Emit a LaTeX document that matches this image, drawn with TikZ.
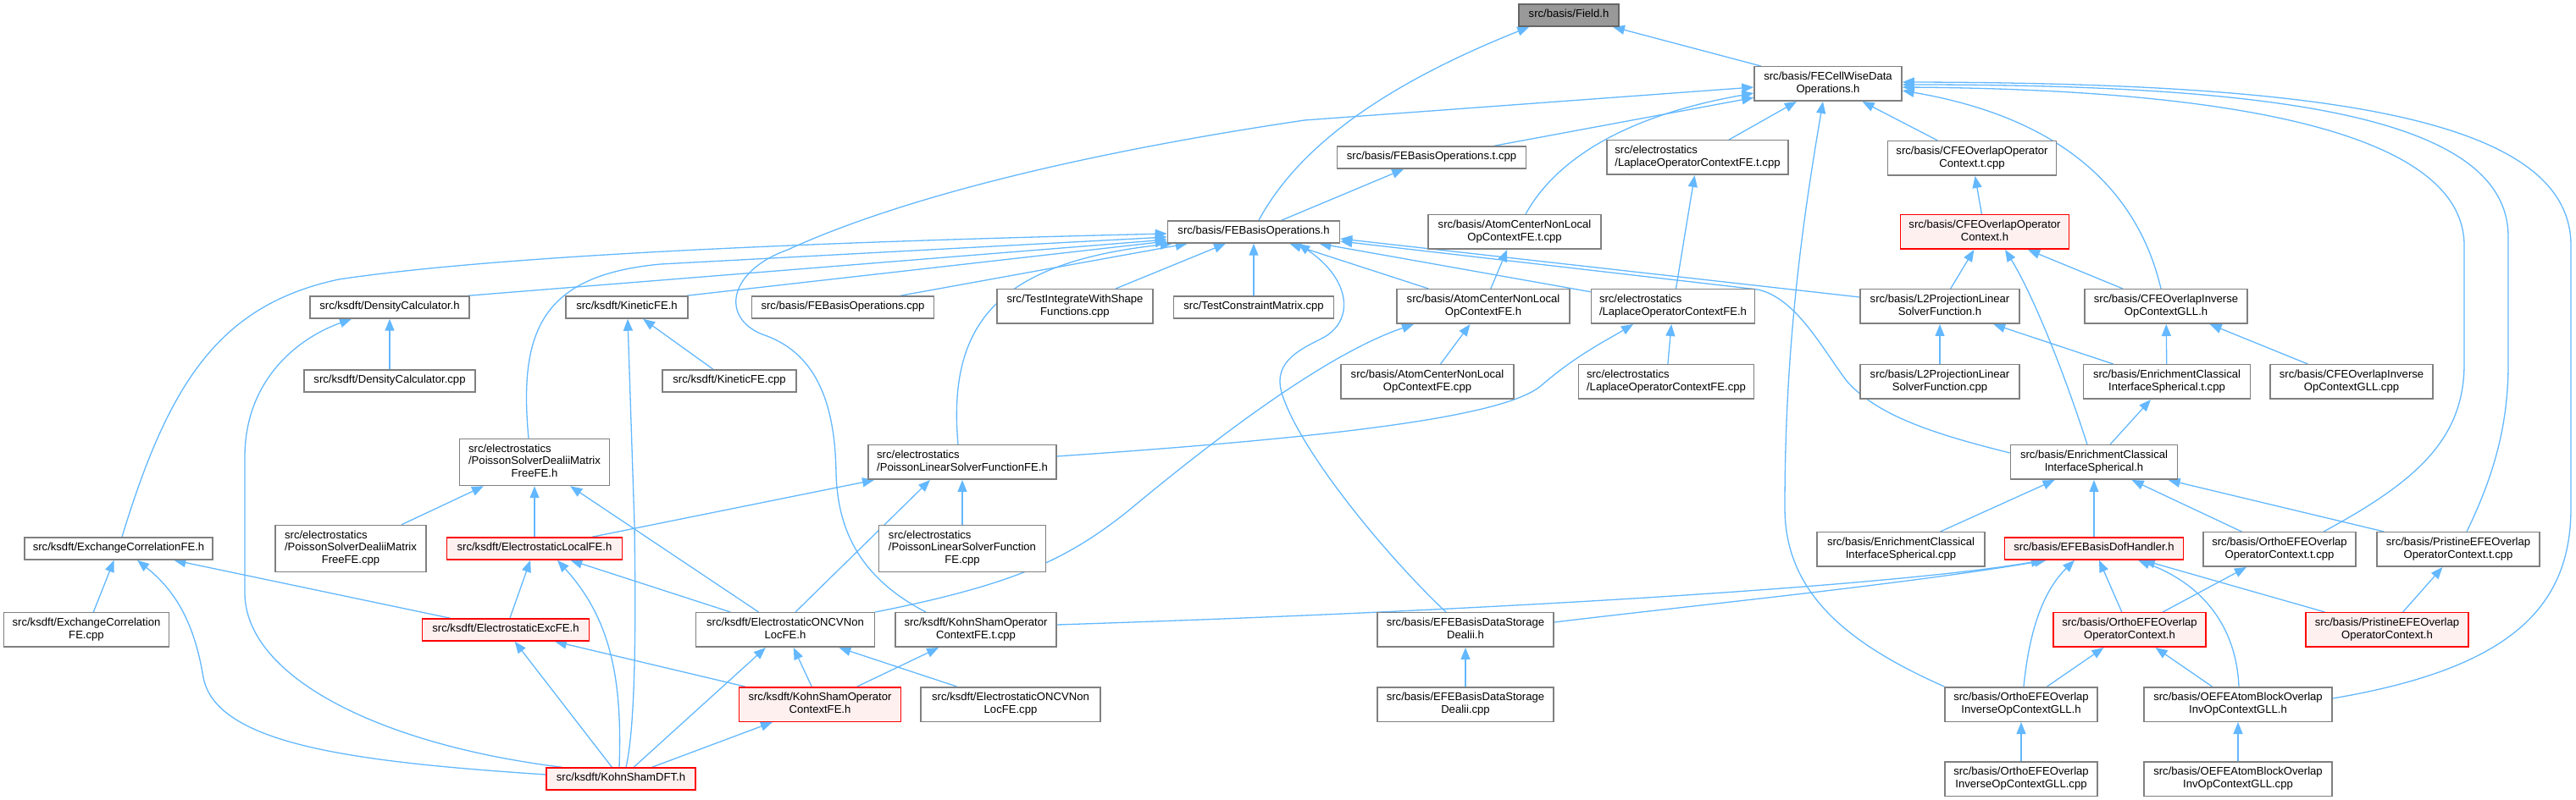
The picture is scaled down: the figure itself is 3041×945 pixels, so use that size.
\documentclass[tikz,border=0pt]{standalone}
\usepackage{fontspec}
\setmainfont{Liberation Sans}
\usetikzlibrary{arrows.meta,calc}
\definecolor{edgec}{HTML}{63B8FF}
\definecolor{bord}{HTML}{808080}
\definecolor{redfill}{HTML}{FFF0F0}
\definecolor{rootfill}{HTML}{999999}
\definecolor{rootbord}{HTML}{666666}
\newcommand{\oneln}[1]{\begin{tabular}{@{}l@{}}#1\end{tabular}}
\newcommand{\twoln}[2]{\begin{tabular}{@{}l@{}}#1\\\multicolumn{1}{@{}c@{}}{#2}\end{tabular}}
\newcommand{\threeln}[3]{\begin{tabular}{@{}l@{}}#1\\#2\\\multicolumn{1}{@{}c@{}}{#3}\end{tabular}}
\pgfdeclarelayer{bg}
\pgfsetlayers{bg,main}
\tikzset{
  box/.style={rectangle, draw=bord, fill=white, line width=0.75pt, inner sep=0pt,
    font=\fontsize{6.55pt}{7.35pt}\selectfont},
  r1/.style={minimum height=13pt},
  r2/.style={minimum height=20.25pt},
  r3/.style={minimum height=27.5pt},
  redbox/.style={draw=red, fill=redfill},
  rootbox/.style={draw=rootbord, fill=rootfill},
  edge/.style={draw=edgec, line width=0.65pt, -{Triangle[length=7pt,width=5.5pt]}}
}
\begin{document}
\begin{tikzpicture}[x=0.5pt,y=-0.5pt]
\useasboundingbox (0,0) rectangle (3041,945);
% nodes
\node[box,r1,rootbox,minimum width=59pt] (field) at (1852,18) {\oneln{src/basis/Field.h}};
\node[box,r2,minimum width=87pt] (fecw) at (2158,99) {\twoln{src/basis/FECellWiseData}{Operations.h}};
\node[box,r1,minimum width=111.5pt] (febt) at (1690,186) {\oneln{src/basis/FEBasisOperations.t.cpp}};
\node[box,r2,minimum width=107pt] (lapt) at (2004,186) {\twoln{src/electrostatics}{/LaplaceOperatorContextFE.t.cpp}};
\node[box,r2,minimum width=99.5pt] (cfet) at (2328,187) {\twoln{src/basis/CFEOverlapOperator}{Context.t.cpp}};
\node[box,r2,redbox,minimum width=99.5pt] (cfeh) at (2343,274) {\twoln{src/basis/CFEOverlapOperator}{Context.h}};
\node[box,r1,minimum width=101.5pt] (febh) at (1480,274) {\oneln{src/basis/FEBasisOperations.h}};
\node[box,r2,minimum width=102pt] (acnt) at (1788,274) {\twoln{src/basis/AtomCenterNonLocal}{OpContextFE.t.cpp}};
\node[box,r1,minimum width=94pt] (dch) at (460,363) {\oneln{src/ksdft/DensityCalculator.h}};
\node[box,r1,minimum width=72pt] (kinh) at (740,363) {\oneln{src/ksdft/KineticFE.h}};
\node[box,r1,minimum width=107.5pt] (febcpp) at (995,363) {\oneln{src/basis/FEBasisOperations.cpp}};
\node[box,r2,minimum width=92pt] (tiws) at (1269,362) {\twoln{src/TestIntegrateWithShape}{Functions.cpp}};
\node[box,r1,minimum width=94.5pt] (tcm) at (1480,363) {\oneln{src/TestConstraintMatrix.cpp}};
\node[box,r2,minimum width=102pt] (acnh) at (1751,362) {\twoln{src/basis/AtomCenterNonLocal}{OpContextFE.h}};
\node[box,r2,minimum width=96.5pt] (laph) at (1975,362) {\twoln{src/electrostatics}{/LaplaceOperatorContextFE.h}};
\node[box,r2,minimum width=94pt] (l2h) at (2290,362) {\twoln{src/basis/L2ProjectionLinear}{SolverFunction.h}};
\node[box,r2,minimum width=96pt] (cfeinvh) at (2557,362) {\twoln{src/basis/CFEOverlapInverse}{OpContextGLL.h}};
\node[box,r1,minimum width=101pt] (dccpp) at (460,450) {\oneln{src/ksdft/DensityCalculator.cpp}};
\node[box,r1,minimum width=79pt] (kincpp) at (861,450) {\oneln{src/ksdft/KineticFE.cpp}};
\node[box,r2,minimum width=102pt] (acncpp) at (1685,451) {\twoln{src/basis/AtomCenterNonLocal}{OpContextFE.cpp}};
\node[box,r2,minimum width=103.5pt] (lapcpp) at (1967,451) {\twoln{src/electrostatics}{/LaplaceOperatorContextFE.cpp}};
\node[box,r2,minimum width=94pt] (l2cpp) at (2290,451) {\twoln{src/basis/L2ProjectionLinear}{SolverFunction.cpp}};
\node[box,r2,minimum width=98.5pt] (ecist) at (2558,451) {\twoln{src/basis/EnrichmentClassical}{InterfaceSpherical.t.cpp}};
\node[box,r2,minimum width=96pt] (cfeinvcpp) at (2776,451) {\twoln{src/basis/CFEOverlapInverse}{OpContextGLL.cpp}};
\node[box,r3,minimum width=88.5pt] (psdh) at (631,546) {\threeln{src/electrostatics}{/PoissonSolverDealiiMatrix}{FreeFE.h}};
\node[box,r2,minimum width=111pt] (plsh) at (1136,546) {\twoln{src/electrostatics}{/PoissonLinearSolverFunctionFE.h}};
\node[box,r2,minimum width=98.5pt] (ecish) at (2472,546) {\twoln{src/basis/EnrichmentClassical}{InterfaceSpherical.h}};
\node[box,r1,minimum width=111pt] (xch) at (140,648) {\oneln{src/ksdft/ExchangeCorrelationFE.h}};
\node[box,r3,minimum width=89pt] (psdcpp) at (414,648) {\threeln{src/electrostatics}{/PoissonSolverDealiiMatrix}{FreeFE.cpp}};
\node[box,r1,redbox,minimum width=103.5pt] (elh) at (631,648) {\oneln{src/ksdft/ElectrostaticLocalFE.h}};
\node[box,r3,minimum width=98.5pt] (plscpp) at (1136,648) {\threeln{src/electrostatics}{/PoissonLinearSolverFunction}{FE.cpp}};
\node[box,r2,minimum width=99pt] (eciscpp) at (2244,649) {\twoln{src/basis/EnrichmentClassical}{InterfaceSpherical.cpp}};
\node[box,r1,redbox,minimum width=105.5pt] (dofh) at (2472,648) {\oneln{src/basis/EFEBasisDofHandler.h}};
\node[box,r2,minimum width=90pt] (orthot) at (2691,649) {\twoln{src/basis/OrthoEFEOverlap}{OperatorContext.t.cpp}};
\node[box,r2,minimum width=96pt] (pristt) at (2902,649) {\twoln{src/basis/PristineEFEOverlap}{OperatorContext.t.cpp}};
\node[box,r1,redbox,minimum width=98.5pt] (exch) at (597,744) {\oneln{src/ksdft/ElectrostaticExcFE.h}};
\node[box,r2,minimum width=97.5pt] (xccpp) at (102,744) {\twoln{src/ksdft/ExchangeCorrelation}{FE.cpp}};
\node[box,r2,minimum width=105.5pt] (oncvh) at (927,744) {\twoln{src/ksdft/ElectrostaticONCVNon}{LocFE.h}};
\node[box,r2,minimum width=95pt] (kst) at (1152,744) {\twoln{src/ksdft/KohnShamOperator}{ContextFE.t.cpp}};
\node[box,r2,minimum width=104pt] (dsh) at (1730,744) {\twoln{src/basis/EFEBasisDataStorage}{Dealii.h}};
\node[box,r2,redbox,minimum width=90pt] (orthoh) at (2514,744) {\twoln{src/basis/OrthoEFEOverlap}{OperatorContext.h}};
\node[box,r2,redbox,minimum width=96pt] (pristh) at (2818,744) {\twoln{src/basis/PristineEFEOverlap}{OperatorContext.h}};
\node[box,r2,redbox,minimum width=95.5pt] (ksh) at (968,832) {\twoln{src/ksdft/KohnShamOperator}{ContextFE.h}};
\node[box,r2,minimum width=106pt] (oncvcpp) at (1193,832) {\twoln{src/ksdft/ElectrostaticONCVNon}{LocFE.cpp}};
\node[box,r2,minimum width=104pt] (dscpp) at (1730,832) {\twoln{src/basis/EFEBasisDataStorage}{Dealii.cpp}};
\node[box,r2,minimum width=90pt] (oinvh) at (2386,832) {\twoln{src/basis/OrthoEFEOverlap}{InverseOpContextGLL.h}};
\node[box,r2,minimum width=111pt] (oabh) at (2642,832) {\twoln{src/basis/OEFEAtomBlockOverlap}{InvOpContextGLL.h}};
\node[box,r1,redbox,minimum width=88pt] (ksdft) at (733,920) {\oneln{src/ksdft/KohnShamDFT.h}};
\node[box,r2,minimum width=90pt] (oinvcpp) at (2386,920) {\twoln{src/basis/OrthoEFEOverlap}{InverseOpContextGLL.cpp}};
\node[box,r2,minimum width=111pt] (oabcpp) at (2642,920) {\twoln{src/basis/OEFEAtomBlockOverlap}{InvOpContextGLL.cpp}};
% edges
\begin{pgfonlayer}{bg}
\draw[edge] ($(febh.north)+(6,0)$) .. controls (1540,160) and (1660,90) .. ($(field.south west)+(13,0)$);
\draw[edge] (fecw) -- (field);
\draw[edge] (febt) -- (fecw);
\draw[edge] ($(acnt.north)+(13,0)$) .. controls (1830,200) and (1900,140) .. ($(fecw.west)+(0,11)$);
\draw[edge] (lapt) -- (fecw);
\draw[edge] (cfet) -- (fecw);
\draw[edge] ($(kst.north)+(-59,0)$) .. controls (1010,680) and (989,620) .. (987,560) .. controls (986,470) and (960,415) .. (900,395) .. controls (850,375) and (860,320) .. (930,295) .. controls (1050,240) and (1250,185) .. (1540,142) -- ($(fecw.west)+(0,4)$);
\draw[edge] (oinvh.north west) .. controls (2180,760) and (2107,700) .. (2107,600) .. controls (2107,400) and (2130,250) .. ($(fecw.south)+(-6,0)$);
\draw[edge] ($(cfeinvh.north)+(-6,0)$) .. controls (2525,230) and (2440,140) .. ($(fecw.east)+(0,8)$);
\draw[edge] ($(orthot.north)+(52,0)$) .. controls (2850,570) and (2909,520) .. (2909,430) -- (2909,290) .. controls (2909,160) and (2650,106) .. ($(fecw.east)+(0,4)$);
\draw[edge] ($(pristt.north)+(10,0)$) .. controls (2945,560) and (2961,500) .. (2961,430) -- (2961,280) .. controls (2961,140) and (2700,100) .. ($(fecw.east)+(0,1)$);
\draw[edge] ($(oabh.east)+(0,-7)$) .. controls (2960,790) and (3035,720) .. (3035,600) -- (3035,290) .. controls (3035,140) and (2750,98) .. ($(fecw.east)+(0,-2)$);
\draw[edge] (febh) -- (febt);
\draw[edge] (cfeh) -- (cfet);
\draw[edge] (acnh) -- (acnt);
\draw[edge] (laph) -- (lapt);
\draw[edge] (l2h) -- (cfeh);
\draw[edge] ($(ecish.north)+(-8,0)$) .. controls (2430,420) and (2395,340) .. ($(cfeh.south)+(24,0)$);
\draw[edge] (cfeinvh) -- (cfeh);
% into FEBasisOperations.h
\draw[edge] ($(xch.north)+(4,0)$) .. controls (200,450) and (260,360) .. (400,330) .. controls (600,300) and (1000,285) .. ($(febh.west)+(0,2)$);
\draw[edge] ($(dch.north east)+(-2,0)$) -- ($(febh.west)+(0,9)$);
\draw[edge] ($(psdh.north)+(-7,0)$) .. controls (612,390) and (640,325) .. (780,312) -- ($(febh.west)+(0,6)$);
\draw[edge] ($(kinh.north east)+(-2,0)$) -- ($(febh.west)+(0,11)$);
\draw[edge] ($(febcpp.north)+(68,0)$) -- ($(febh.south west)+(24,0)$);
\draw[edge] ($(plsh.north)+(-5,0)$) .. controls (1118,380) and (1180,310) .. ($(febh.south west)+(6,0)$);
\draw[edge] ($(tiws.north)+(48,0)$) -- ($(febh.south)+(-33,0)$);
\draw[edge] (tcm) -- (febh);
\draw[edge] (acnh) -- (febh);
\draw[edge] (laph) -- (febh);
\draw[edge] ($(l2h.west)+(0,-11)$) -- ($(febh.east)+(0,8)$);
\draw[edge] ($(ecish.west)+(0,-11)$) .. controls (2280,512) and (2215,490) .. (2180,450) .. controls (2150,410) and (2120,352) .. (2075,342) -- ($(febh.east)+(0,11)$);
\draw[edge] ($(dsh.north)+(-23,0)$) .. controls (1640,660) and (1540,540) .. (1515,470) .. controls (1500,430) and (1530,415) .. (1560,400) .. controls (1600,380) and (1595,330) .. ($(febh.south east)+(-50,0)$);
% ksdft and others
\draw[edge] (dccpp) -- (dch);
\draw[edge] ($(ksdft.north west)+(19,0)$) .. controls (450,880) and (289,800) .. (289,700) -- (289,540) .. controls (289,450) and (350,400) .. ($(dch.south)+(-45,0)$);
\draw[edge] (kincpp) -- (kinh);
\draw[edge] ($(ksdft.north)+(6,0)$) .. controls (752,850) and (750,700) .. (749,620) -- ($(kinh.south)+(1,0)$);
\draw[edge] (psdcpp) -- (psdh);
\draw[edge] (elh) -- (psdh);
\draw[edge] (oncvh) -- (psdh);
\draw[edge] (xccpp) -- (xch);
\draw[edge] ($(ksdft.west)+(0,-5)$) .. controls (420,900) and (255,880) .. (240,800) .. controls (230,740) and (210,700) .. ($(xch.south)+(22,0)$);
\draw[edge] (exch) -- (xch);
\draw[edge] (exch) -- (elh);
\draw[edge] ($(ksdft.north)+(-2,0)$) .. controls (735,800) and (720,730) .. ($(elh.south)+(27,0)$);
\draw[edge] (oncvh) -- (elh);
\draw[edge] (elh) -- (plsh);
\draw[edge] (plscpp) -- (plsh);
\draw[edge] ($(oncvh.north)+(12,0)$) -- ($(plsh.south)+(-38,0)$);
\draw[edge] (ksdft) -- (exch);
\draw[edge] (ksh) -- (exch);
\draw[edge] (ksdft) -- (oncvh);
\draw[edge] (ksh) -- (oncvh);
\draw[edge] (oncvcpp) -- (oncvh);
\draw[edge] (ksh) -- (kst);
\draw[edge] (ksdft) -- (ksh);
\draw[edge] ($(kst.east)+(0,-6)$) .. controls (1800,720) and (2250,690) .. ($(dofh.south west)+(46,0)$);
\draw[edge] ($(dsh.east)+(0,-9)$) .. controls (2000,715) and (2250,690) .. ($(dofh.south west)+(50,0)$);
\draw[edge] (dscpp) -- (dsh);
\draw[edge] (acncpp) -- (acnh);
\draw[edge] (oncvh.north east) .. controls (1200,690) and (1260,660) .. (1330,605) .. controls (1420,530) and (1560,420) .. ($(acnh.south)+(-82,0)$);
\draw[edge] (lapcpp) -- (laph);
\draw[edge] ($(plsh.east)+(0,-7)$) .. controls (1600,515) and (1780,490) .. (1820,455) .. controls (1860,420) and (1900,400) .. ($(laph.south)+(-47,0)$);
\draw[edge] (l2cpp) -- (l2h);
\draw[edge] (ecist) -- (l2h);
\draw[edge] (ecist) -- (cfeinvh);
\draw[edge] (cfeinvcpp) -- (cfeinvh);
\draw[edge] (ecish) -- (ecist);
\draw[edge] (eciscpp) -- (ecish);
\draw[edge] (dofh) -- (ecish);
\draw[edge] (orthot) -- (ecish);
\draw[edge] (pristt) -- (ecish);
\draw[edge] (orthoh) -- (orthot);
\draw[edge] (pristh) -- (pristt);
\draw[edge] (orthoh) -- (dofh);
\draw[edge] (pristh) -- ($(dofh.south)+(58,0)$);
\draw[edge] ($(oinvh.north)+(3,0)$) .. controls (2395,750) and (2410,700) .. ($(dofh.south)+(-23,0)$);
\draw[edge] ($(oabh.north)+(1,0)$) .. controls (2640,740) and (2600,690) .. ($(dofh.south)+(52,0)$);
\draw[edge] (oinvh) -- (orthoh);
\draw[edge] (oabh) -- (orthoh);
\draw[edge] (oinvcpp) -- (oinvh);
\draw[edge] (oabcpp) -- (oabh);
\end{pgfonlayer}
\end{tikzpicture}
\end{document}
